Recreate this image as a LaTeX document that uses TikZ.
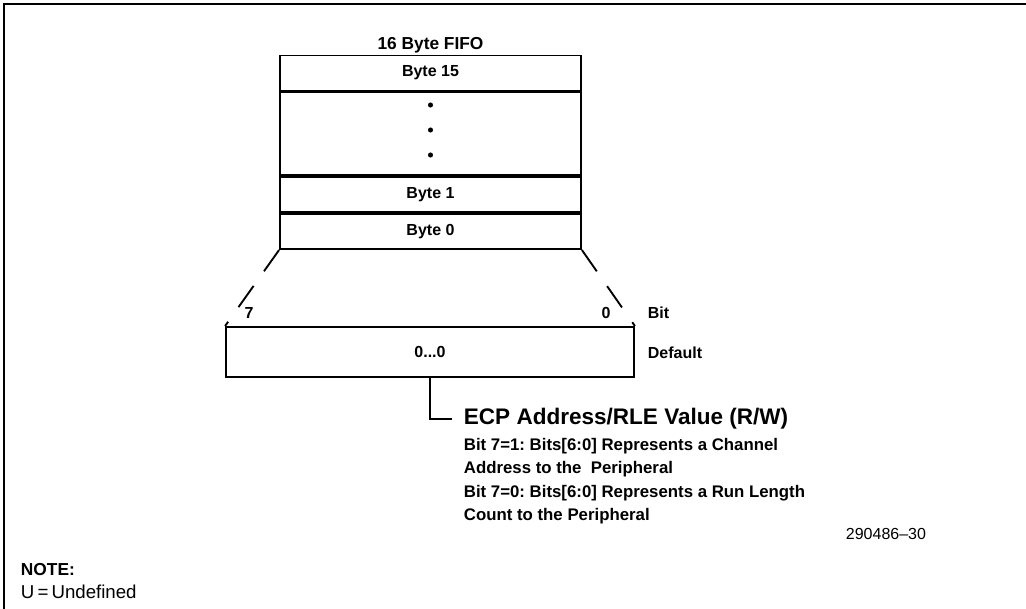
\documentclass[tikz,border=0pt]{standalone}
\usepackage{fontspec}
\setmainfont{Liberation Sans}
\usetikzlibrary{positioning}
\frenchspacing

\begin{document}
\begin{tikzpicture}[x=0.75pt,y=-0.75pt,line width=1.4pt,
    every node/.style={font=\bfseries\fontsize{12}{14}\selectfont},
    cell/.style={draw,minimum width=225.75pt,minimum height=26.25pt,inner sep=0pt},
    split/.style={dash pattern=on 19.5pt off 13.5pt},
    txt/.style={anchor=west,inner sep=0pt}]
    \useasboundingbox (0,0) rectangle (1026,609);
    \draw[line width=1.6pt] (4,609) -- (4,4) -- (1026,4);
    % the fifo
    \node[font=\bfseries\fontsize{13}{15}\selectfont] (fifo) at (430.5,45) {16 Byte FIFO};
    \node[cell] (b15) at (430.5,73) {Byte 15};
    \node[cell,minimum height=62.25pt,below=0pt of b15] (gap) {};
    \node[cell,below=0pt of gap] (b1) {Byte 1};
    \node[cell,below=0pt of b1] (b0) {Byte 0};
    \foreach \y in {105,130,155}
        \fill (430.5,\y) circle (1.9pt);
    % the register
    \node[cell,minimum width=306pt,minimum height=37.5pt] (reg) at (430,352) {0...0};
    \draw[split] (b0.south west) -- (reg.north west);
    \draw[split] (b0.south east) -- (reg.north east);
    \node (hi) at (249,313) {7};
    \node (lo) at (606,313) {0};
    \node[txt] (bit) at (647,313) {Bit};
    \node[txt] (dflt) at (647,353) {Default};
    \node[txt,font=\bfseries\fontsize{16.9}{18}\selectfont] (ecp) at (463,419) {ECP Address/RLE Value (R/W)};
    \draw (reg.south) |- ([xshift=-8.25pt]ecp.west);
    \node[txt,anchor=north west,align=left,font=\bfseries\fontsize{12.6}{17.6}\selectfont] (desc) at (463,437)
        {Bit 7=1: Bits[6:0] Represents a Channel\\
         Address to the \ Peripheral\\
         Bit 7=0: Bits[6:0] Represents a Run Length\\
         Count to the Peripheral};
    \node[txt,font=\fontsize{12}{14}\selectfont] (code) at (845,534) {290486--30};
    \node[txt,font=\bfseries\fontsize{13}{15}\selectfont] (note) at (20,570) {NOTE:};
    \node[txt,font=\fontsize{14}{16}\selectfont] (undef) at (20,592) {U\,=\,Undefined};
\end{tikzpicture}
\end{document}
